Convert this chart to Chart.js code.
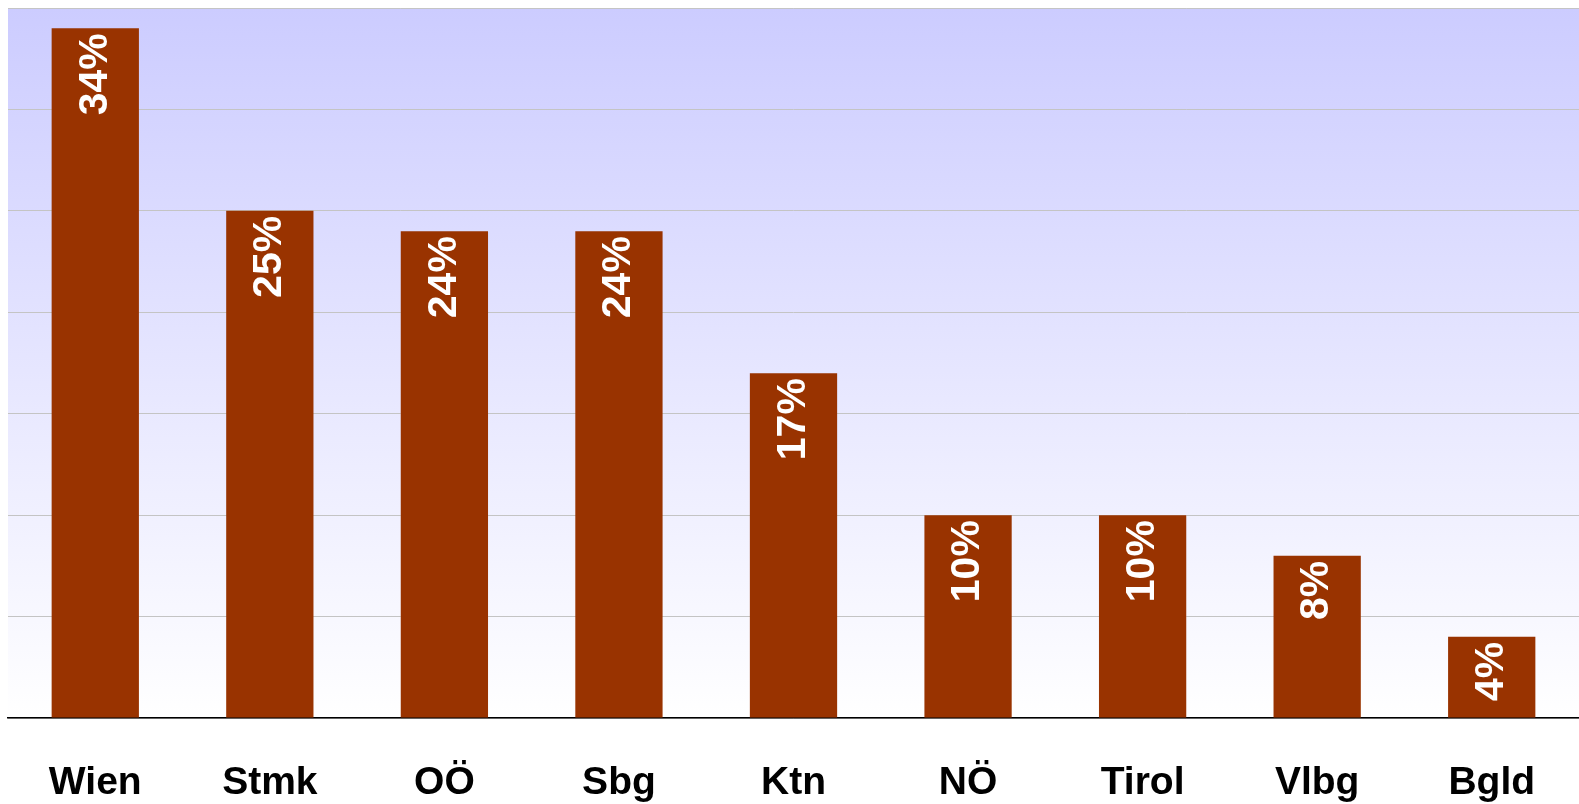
<!DOCTYPE html>
<html>
<head>
<meta charset="utf-8">
<script src="https://cdn.jsdelivr.net/npm/chart.js@4/dist/chart.umd.min.js"></script>
<style>
  html, body { margin: 0; padding: 0; background: #fff; overflow: hidden; }
  canvas { display: block; }
</style>
</head>
<body>
<canvas id="myChart" width="1579" height="804" style="width:1579px;height:804px"></canvas>
<script>
const regions = ['Wien', 'Stmk', 'OÖ', 'Sbg', 'Ktn', 'NÖ', 'Tirol', 'Vlbg', 'Bgld'];
const shares = [34, 25, 24, 24, 17, 10, 10, 8, 4];
const yMax = 35;
const yStep = 5;

// gradient behind the plot
const plotBg = {
  id: 'plotBg',
  beforeDraw(chart) {
    const { ctx, chartArea: a } = chart;
    const g = ctx.createLinearGradient(0, a.top, 0, a.bottom);
    g.addColorStop(0, '#ccccff');
    g.addColorStop(1, '#ffffff');
    ctx.save();
    ctx.fillStyle = g;
    ctx.fillRect(a.left, a.top, a.right - a.left, a.bottom - a.top);
    ctx.restore();
  }
};

// rotated value labels at the top of each bar
const barLabels = {
  id: 'barLabels',
  afterDatasetsDraw(chart) {
    const { ctx } = chart;
    const meta = chart.getDatasetMeta(0);
    ctx.save();
    ctx.fillStyle = '#ffffff';
    ctx.font = 'bold 41px "Liberation Sans", Arial, sans-serif';
    ctx.textAlign = 'right';
    ctx.textBaseline = 'middle';
    meta.data.forEach(function(bar, i) {
      ctx.save();
      ctx.translate(bar.x, bar.y + 5);
      ctx.rotate(-Math.PI / 2);
      ctx.fillText(shares[i] + '%', 0, 0);
      ctx.restore();
    });
    ctx.restore();
  }
};

const ctx = document.getElementById('myChart').getContext('2d');
const chart = new Chart(ctx, {
  type: 'bar',
  data: {
    labels: regions,
    datasets: [{
      data: shares,
      backgroundColor: '#993300',
      borderWidth: 0,
      categoryPercentage: 1,
      barPercentage: 0.5,
    }]
  },
  options: {
    responsive: false,
    animation: false,
    layout: { padding: { top: 8, left: 8, right: 0, bottom: -44 } },
    plugins: {
      legend: { display: false },
      tooltip: { enabled: false },
    },
    scales: {
      x: {
        grid: { display: false, drawTicks: false },
        border: { display: true, color: '#000000', width: 1.5 },
        ticks: {
          color: '#000000',
          padding: 0,
          maxRotation: 0,
          font: { family: '"Liberation Sans", Arial, sans-serif', size: 39, weight: 'bold', lineHeight: '130px' },
        },
      },
      y: {
        min: 0,
        max: yMax,
        ticks: { display: false, stepSize: yStep },
        grid: { color: '#c4c4c4', lineWidth: 1, drawTicks: false },
        border: { display: false },
      }
    }
  },
  plugins: [plotBg, barLabels]
});
</script>
</body>
</html>
